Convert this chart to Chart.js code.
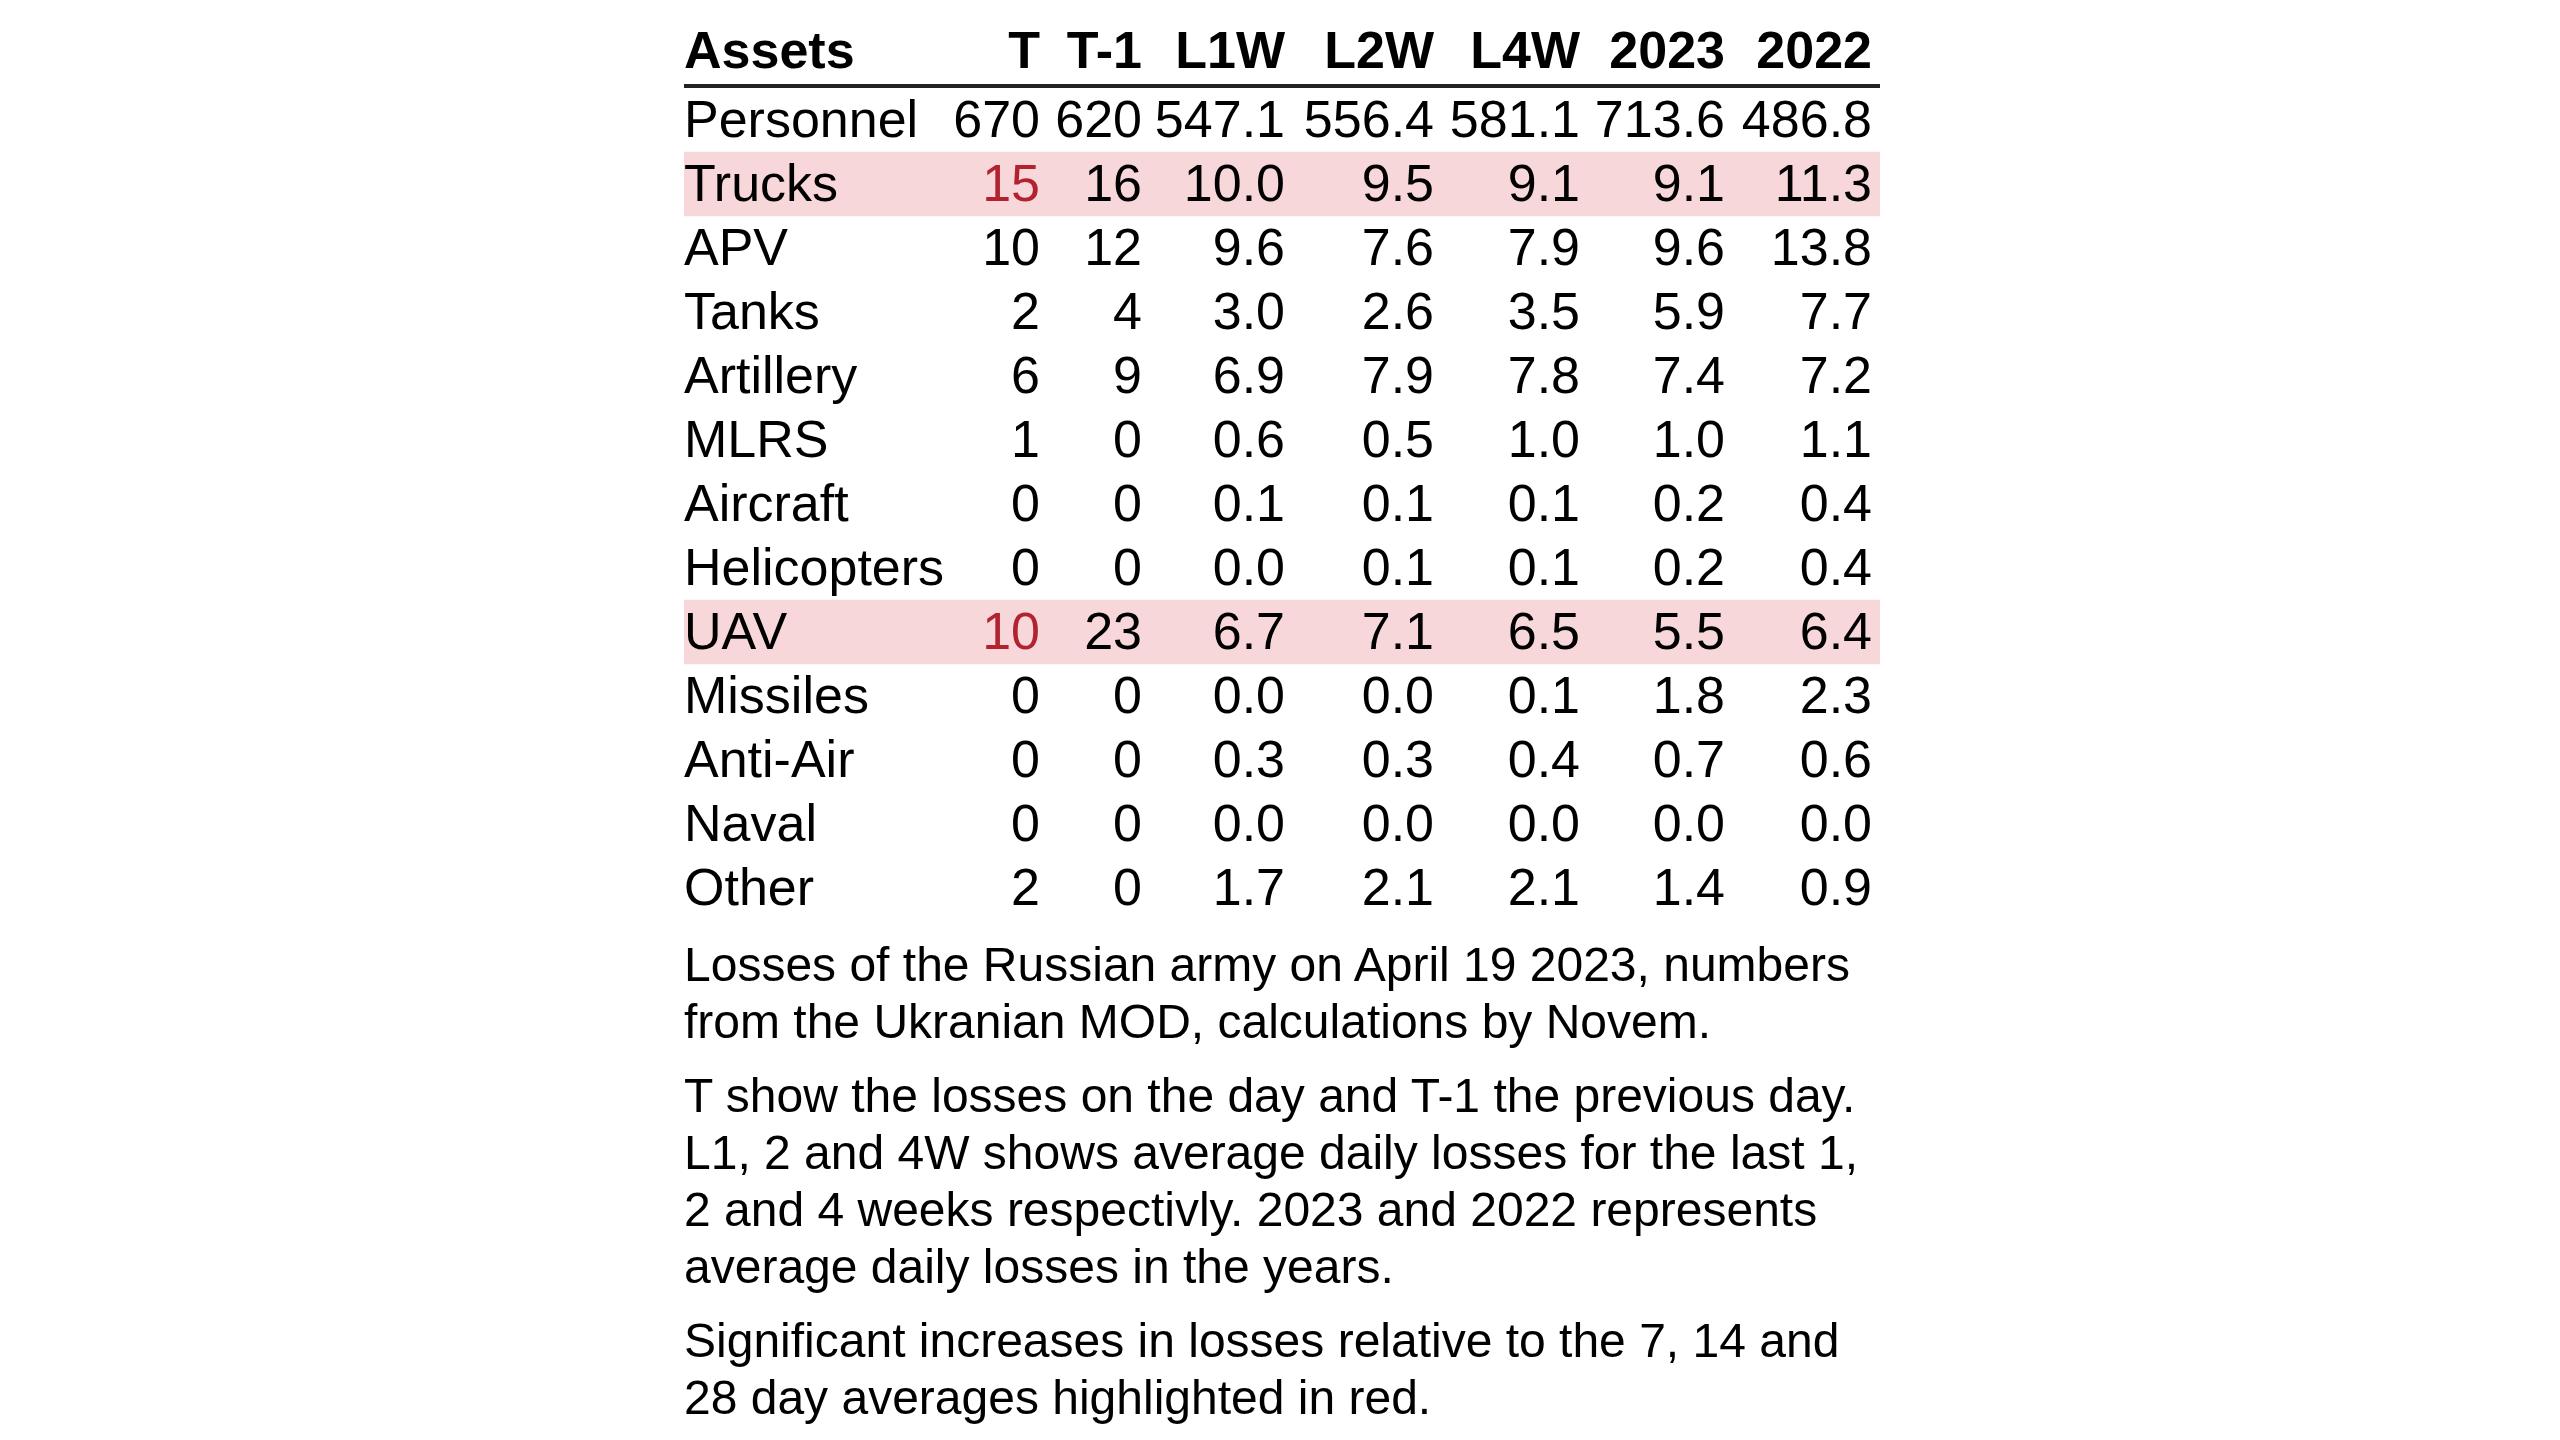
<!DOCTYPE html>
<html>
<head>
<meta charset="utf-8">
<script src="https://cdn.jsdelivr.net/npm/chart.js@4"></script>
<style>
  html, body { margin: 0; padding: 0; background: #fff; }
  #wrap { position: absolute; left: 0; top: 0; width: 2560px; height: 1440px; }
  #notes {
    position: absolute; left: 684px; top: 935.5px;
    font-family: "Liberation Sans", Arial, sans-serif;
    font-size: 48px; line-height: 57px; color: #000; white-space: nowrap;
  }
  #notes p { margin: 0 0 17px 0; }
</style>
</head>
<body>
<div id="wrap">
  <canvas id="lossTable" width="2560" height="1440"></canvas>
  <div id="notes">
    <p>Losses of the Russian army on April 19 2023, numbers<br>from the Ukranian MOD, calculations by Novem.</p>
    <p>T show the losses on the day and T-1 the previous day.<br>L1, 2 and 4W shows average daily losses for the last 1,<br>2 and 4 weeks respectivly. 2023 and 2022 represents<br>average daily losses in the years.</p>
    <p>Significant increases in losses relative to the 7, 14 and<br>28 day averages highlighted in red.</p>
  </div>
</div>
<script>
// table data
const assets = ['Personnel', 'Trucks', 'APV', 'Tanks', 'Artillery', 'MLRS', 'Aircraft',
  'Helicopters', 'UAV', 'Missiles', 'Anti-Air', 'Naval', 'Other'];
const columns = ['T', 'T-1', 'L1W', 'L2W', 'L4W', '2023', '2022'];

const lossT   = [670, 15, 10, 2, 6, 1, 0, 0, 10, 0, 0, 0, 2];
const lossT1  = [620, 16, 12, 4, 9, 0, 0, 0, 23, 0, 0, 0, 0];
const lossL1W = [547.1, 10.0, 9.6, 3.0, 6.9, 0.6, 0.1, 0.0, 6.7, 0.0, 0.3, 0.0, 1.7];
const lossL2W = [556.4, 9.5, 7.6, 2.6, 7.9, 0.5, 0.1, 0.1, 7.1, 0.0, 0.3, 0.0, 2.1];
const lossL4W = [581.1, 9.1, 7.9, 3.5, 7.8, 1.0, 0.1, 0.1, 6.5, 0.1, 0.4, 0.0, 2.1];
const loss2023 = [713.6, 9.1, 9.6, 5.9, 7.4, 1.0, 0.2, 0.2, 5.5, 1.8, 0.7, 0.0, 1.4];
const loss2022 = [486.8, 11.3, 13.8, 7.7, 7.2, 1.1, 0.4, 0.4, 6.4, 2.3, 0.6, 0.0, 0.9];

// rows with a significant jump on the day (red cell in column T)
const highlighted = ['Trucks', 'UAV'];

// layout (px from the table's left edge)
const tableWidth = 1196;
const colRight = [356, 458, 601, 750, 896, 1041, 1188];
const decimals = [0, 0, 1, 1, 1, 1, 1];

const series = [lossT, lossT1, lossL1W, lossL2W, lossL4W, loss2023, loss2022];
const FONT = '"Liberation Sans", Arial, sans-serif';
const RED = '#b2222f';

const cellText = {
  id: 'cellText',
  afterDatasetsDraw(chart) {
    const { ctx, scales: { x, y } } = chart;
    const left = x.getPixelForValue(0);
    const right = x.getPixelForValue(tableWidth);
    ctx.save();
    // header
    ctx.fillStyle = '#000';
    ctx.textBaseline = 'alphabetic';
    ctx.font = 'bold 52px ' + FONT;
    ctx.textAlign = 'left';
    ctx.fillText('Assets', left, y.top - 20);
    ctx.textAlign = 'right';
    columns.forEach((c, j) => ctx.fillText(c, x.getPixelForValue(colRight[j]), y.top - 20));
    // header rule
    ctx.fillStyle = '#222';
    ctx.fillRect(left, y.top - 4, right - left, 4);
    // body
    ctx.font = '52px ' + FONT;
    assets.forEach((name, i) => {
      const base = y.getPixelForValue(i) + 17;
      ctx.fillStyle = '#000';
      ctx.textAlign = 'left';
      ctx.fillText(name, left, base);
      ctx.textAlign = 'right';
      series.forEach((vals, j) => {
        const red = j === 0 && highlighted.includes(name);
        ctx.fillStyle = red ? RED : '#000';
        ctx.fillText(vals[i].toFixed(decimals[j]), x.getPixelForValue(colRight[j]), base);
      });
    });
    ctx.restore();
  }
};

new Chart(document.getElementById('lossTable'), {
  type: 'bar',
  data: {
    labels: assets,
    datasets: [{
      data: assets.map(a => highlighted.includes(a) ? [0, tableWidth] : null),
      backgroundColor: '#f8d7da',
      borderWidth: 0,
      barPercentage: 1,
      categoryPercentage: 1
    }]
  },
  options: {
    indexAxis: 'y',
    responsive: false,
    animation: false,
    devicePixelRatio: 1,
    layout: { padding: { left: 684, right: 680, top: 88, bottom: 520 } },
    scales: {
      x: { type: 'linear', min: 0, max: tableWidth, display: false },
      y: { display: false, offset: true }
    },
    plugins: {
      legend: { display: false },
      tooltip: { enabled: false }
    }
  },
  plugins: [cellText]
});
</script>
</body>
</html>
